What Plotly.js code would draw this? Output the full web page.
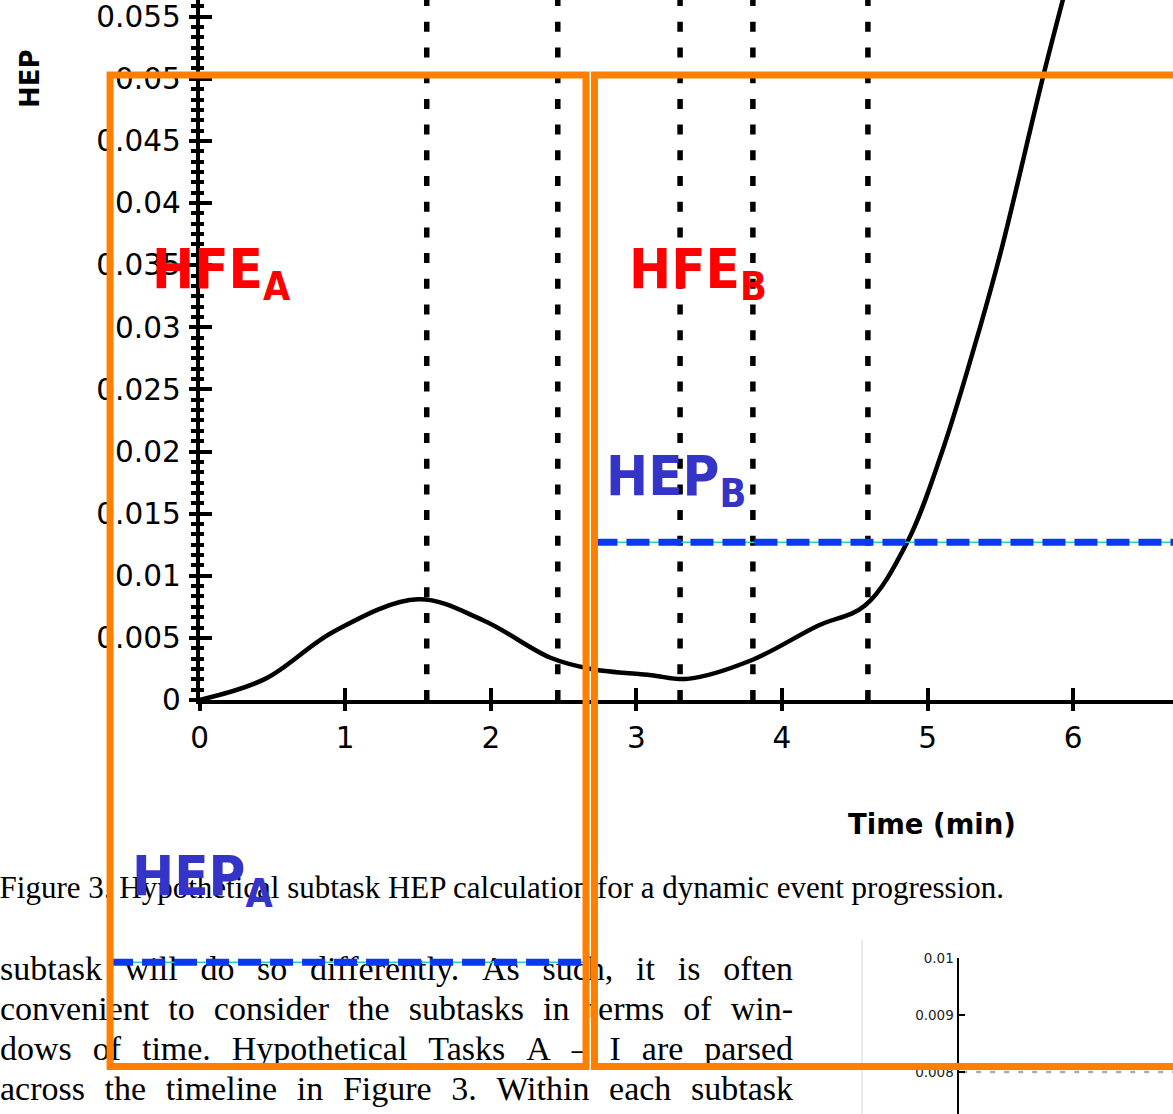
<!DOCTYPE html>
<html><head><meta charset="utf-8">
<script src="https://cdn.plot.ly/plotly-3.0.1.min.js"></script>
<style>html,body{margin:0;padding:0;background:#fff}#chart{width:1173px;height:1114px}</style>
</head><body><div id="chart"></div>
<script>
// ---------------- data ----------------
const timeMin  = [0, 0.45, 0.92, 1.5, 1.95, 2.41, 2.69, 3.1, 3.35, 3.79, 4.25, 4.57, 4.86, 5.1, 5.36, 5.51, 5.8, 6.0];
const hepCurve = [0, 0.0017, 0.0055, 0.0081, 0.0064, 0.0034, 0.0025, 0.0020, 0.0017, 0.0032, 0.0060, 0.0076, 0.0127, 0.0200, 0.0300, 0.0364, 0.0505, 0.0595];
const subtaskBounds = [1.56, 2.46, 3.3, 3.8, 4.59];
const xTickVals = [0, 1, 2, 3, 4, 5, 6];
const xTickText = ['0', '1', '2', '3', '4', '5', '6'];
const yTickVals = [0, 0.005, 0.01, 0.015, 0.02, 0.025, 0.03, 0.035, 0.04, 0.045, 0.05, 0.055];
const yTickText = ['0', '0.005', '0.01', '0.015', '0.02', '0.025', '0.03', '0.035', '0.04', '0.045', '0.05', '0.055'];
const windowNames  = ['A', 'B'];
const windowStart  = [-0.615, 2.712];
const windowEnd    = [2.654, 7.2];
const windowTop    = [0.0503, 0.0503];
const windowBottom = [-0.0295, -0.0295];
const hepLevel     = [-0.0211, 0.0127];
const insetTickVals = [0.008, 0.009, 0.01];
const insetTickText = ['0.008', '0.009', '0.01'];
const insetRefLevel = 0.008;
const captionText = 'Figure 3. Hypothetical subtask HEP calculation for a dynamic event progression.';
const bodyLines = [
  'subtask will do so differently. As such, it is often',
  'convenient to consider the subtasks in terms of win-',
  'dows of time. Hypothetical Tasks A \u2013 I are parsed',
  'across the timeline in Figure 3. Within each subtask'
];

// ---------------- layout geometry ----------------
const W = 1173, H = 1114;
const X0PX = 199.6, XSCALE = 145.6;     // px per minute
const Y0PX = 700, YSCALE = 12424;       // px per HEP unit
const px2x = px => (px - X0PX) / XSCALE;
const px2y = py => (Y0PX - py) / YSCALE;
const INSET_LEFT = 959, INSET_TOP = 958, INSET_SCALE = 57000;

const BODY_FS = 34, CAP_FS = 31;
const BODY_LEFT = 0, BODY_RIGHT = 793;
const BODY_BASE = [980, 1020, 1060, 1100];
const CAP_RIGHT = 1004, CAP_BASE = 898;
const SERIF = 'Liberation Serif, Times New Roman, serif';

const ctx = document.createElement('canvas').getContext('2d');
ctx.font = BODY_FS + 'px "Liberation Serif"';
const bodyX = [], bodyY = [], bodyT = [];
bodyLines.forEach((line, i) => {
  const words = line.split(' ');
  const widths = words.map(w => ctx.measureText(w).width);
  const total = widths.reduce((a, b) => a + b, 0);
  const gap = (BODY_RIGHT - BODY_LEFT - total) / (words.length - 1);
  let cx = BODY_LEFT;
  words.forEach((w, j) => {
    bodyX.push(px2x(cx));
    bodyY.push(px2y(BODY_BASE[i] - 0.25 * BODY_FS));
    bodyT.push(w);
    cx += widths[j] + gap;
  });
});

const traces = [];
// subtask boundaries (dotted)
subtaskBounds.forEach(b => traces.push({
  x: [b, b], y: [0, px2y(-40)], mode: 'lines', xaxis: 'x', yaxis: 'y',
  line: {color: '#000', width: 5.5, dash: '10px,15.7px'}, hoverinfo: 'skip', showlegend: false
}));
// HEP curve
traces.push({
  x: timeMin, y: hepCurve, mode: 'lines', xaxis: 'x', yaxis: 'y',
  line: {color: '#000', width: 4.5, shape: 'spline', smoothing: 1}, hoverinfo: 'skip', showlegend: false
});
// overlay axis for inside ticks
traces.push({x: [null], y: [null], xaxis: 'x4', yaxis: 'y4', mode: 'lines', hoverinfo: 'skip', showlegend: false});
// page text
traces.push({
  x: bodyX, y: bodyY, text: bodyT, mode: 'text', textposition: 'middle right', xaxis: 'x2', yaxis: 'y2',
  textfont: {family: SERIF, size: BODY_FS, color: '#000'}, cliponaxis: false, hoverinfo: 'skip', showlegend: false
});
traces.push({
  x: [px2x(CAP_RIGHT)], y: [px2y(CAP_BASE - 0.25 * CAP_FS)], text: [captionText], mode: 'text',
  textposition: 'middle left', xaxis: 'x2', yaxis: 'y2',
  textfont: {family: SERIF, size: CAP_FS, color: '#000'}, cliponaxis: false, hoverinfo: 'skip', showlegend: false
});
// HEP levels per subtask window
windowNames.forEach((n, i) => {
  traces.push({
    x: [windowStart[i], windowEnd[i]], y: [hepLevel[i], hepLevel[i]], mode: 'lines', xaxis: 'x2', yaxis: 'y2',
    line: {color: '#22d3c0', width: 1.5}, hoverinfo: 'skip', showlegend: false
  });
  traces.push({
    x: [windowStart[i], windowEnd[i]], y: [hepLevel[i], hepLevel[i]], mode: 'lines', xaxis: 'x2', yaxis: 'y2',
    line: {color: '#0838f2', width: 7, dash: '23px,9px'}, hoverinfo: 'skip', showlegend: false
  });
});
// inset reference line
traces.push({
  x: [0.015, 1.1], y: [insetRefLevel, insetRefLevel], mode: 'lines', xaxis: 'x3', yaxis: 'y3',
  line: {color: '#aaaaaa', width: 2.5, dash: '5px,9px'}, hoverinfo: 'skip', showlegend: false
});

const tickFont = {family: 'DejaVu Sans', size: 29.5, color: '#000'};
const hidden = {visible: false, showgrid: false, zeroline: false, fixedrange: true};

const shapes = windowNames.map((n, i) => ({
  type: 'rect', xref: 'x2', yref: 'y2', layer: 'above',
  x0: windowStart[i], x1: windowEnd[i], y0: windowBottom[i], y1: windowTop[i],
  line: {color: '#ff8000', width: 7}, fillcolor: 'rgba(0,0,0,0)'
}));
shapes.push({type: 'line', xref: 'paper', yref: 'paper', layer: 'below',
  x0: 862 / W, x1: 862 / W, y0: 0, y1: 1 - 940 / H, line: {color: '#e4e4e4', width: 1.5}});

const LABEL_FS = 56;
const labelFont = c => ({family: 'DejaVu Sans Condensed, Liberation Sans Narrow, DejaVu Sans, sans-serif', size: LABEL_FS, color: c, weight: 'bold'});
const ann = (t, xpx, ytop, c) => ({text: t, xref: 'paper', yref: 'paper', x: xpx / W, y: 1 - ytop / H,
  xanchor: 'left', yanchor: 'top', showarrow: false, font: labelFont(c)});

const layout = {
  width: W, height: H, margin: {l: 0, r: 0, t: 0, b: 0},
  paper_bgcolor: '#fff', plot_bgcolor: 'rgba(0,0,0,0)', showlegend: false, hovermode: false,
  xaxis: {domain: [X0PX / W, 1], range: [0, px2x(W)], anchor: 'y', showline: true, linewidth: 4, linecolor: '#000',
    ticks: 'outside', ticklen: 7, tickwidth: 4, tickcolor: '#000', tickmode: 'array', tickvals: xTickVals, ticktext: xTickText,
    tickfont: tickFont, ticklabelstandoff: 2, showgrid: false, zeroline: false, fixedrange: true},
  yaxis: {domain: [1 - Y0PX / H, 1], range: [0, px2y(0)], anchor: 'x', showline: true, linewidth: 4, linecolor: '#000',
    ticks: 'outside', ticklen: 7, tickwidth: 4, tickcolor: '#000', tickmode: 'array', tickvals: yTickVals, ticktext: yTickText,
    minor: {ticks: 'outside', ticklen: 4.5, tickwidth: 4, tickcolor: '#000', tickmode: 'linear', tick0: 0, dtick: 0.005 / 6, showgrid: false},
    tickfont: tickFont, ticklabelstandoff: 2, showgrid: false, zeroline: false, fixedrange: true},
  xaxis4: {overlaying: 'x', anchor: 'y4', side: 'bottom', range: [0, px2x(W)], showline: false,
    ticks: 'inside', ticklen: 12, tickwidth: 4, tickcolor: '#000', tickmode: 'array', tickvals: xTickVals,
    showticklabels: false, showgrid: false, zeroline: false, fixedrange: true},
  yaxis4: {overlaying: 'y', anchor: 'x4', side: 'left', range: [0, px2y(0)], showline: false,
    ticks: 'inside', ticklen: 12, tickwidth: 4, tickcolor: '#000', tickmode: 'array', tickvals: yTickVals,
    minor: {ticks: 'inside', ticklen: 4.5, tickwidth: 4, tickcolor: '#000', tickmode: 'linear', tick0: 0, dtick: 0.005 / 6, showgrid: false},
    showticklabels: false, showgrid: false, zeroline: false, fixedrange: true},
  xaxis2: Object.assign({domain: [0, 1], range: [px2x(0), px2x(W)], anchor: 'y2'}, hidden),
  yaxis2: Object.assign({domain: [0, 1], range: [px2y(H), px2y(0)], anchor: 'x2'}, hidden),
  xaxis3: Object.assign({domain: [INSET_LEFT / W, 1], range: [0, 1], anchor: 'y3'}, hidden),
  yaxis3: {domain: [0, (H - INSET_TOP) / H], range: [0.01 - (H - INSET_TOP) / INSET_SCALE, 0.01], anchor: 'x3',
    showline: true, linewidth: 2.5, linecolor: '#000', ticks: 'inside', ticklen: 6, tickwidth: 2.5, tickcolor: '#000',
    tickmode: 'array', tickvals: insetTickVals, ticktext: insetTickText,
    tickfont: {family: 'DejaVu Sans', size: 13.5, color: '#222'}, showgrid: false, zeroline: false, fixedrange: true},
  shapes: shapes,
  annotations: [
    {text: 'HEP', xref: 'paper', yref: 'paper', x: 30 / W, y: 1 - 79 / H, textangle: -90, showarrow: false,
      xanchor: 'center', yanchor: 'middle', font: {family: 'DejaVu Sans', size: 26, color: '#000', weight: 'bold'}},
    {text: 'Time (min)', xref: 'paper', yref: 'paper', x: 932 / W, y: 1 - 824 / H, showarrow: false,
      xanchor: 'center', yanchor: 'middle', font: {family: 'DejaVu Sans', size: 27.5, color: '#000', weight: 'bold'}},
    ann('HFE<sub>' + windowNames[0] + '</sub>', 150, 234, '#ff0000'),
    ann('HFE<sub>' + windowNames[1] + '</sub>', 627, 234, '#ff0000'),
    ann('HEP<sub>' + windowNames[1] + '</sub>', 604, 441, '#3434c8'),
    ann('HEP<sub>' + windowNames[0] + '</sub>', 130, 841, '#3434c8')
  ]
};

Plotly.newPlot('chart', traces, layout, {displayModeBar: false, staticPlot: true});
</script>
</body></html>
